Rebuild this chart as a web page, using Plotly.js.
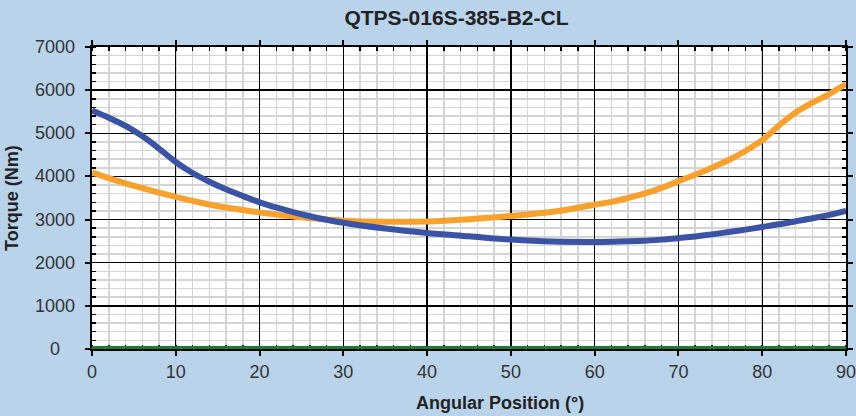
<!DOCTYPE html>
<html>
<head>
<meta charset="utf-8">
<script src="https://cdn.plot.ly/plotly-3.0.1.min.js"></script>
<style>html,body{margin:0;padding:0;background:#b9d4ea;}#chart{width:856px;height:416px;}</style>
</head>
<body>
<div id="chart"></div>
<script>
const angle = [0,2,4,6,8,10,12,14,16,18,20,22,24,26,28,30,35,40,45,50,55,60,62,64,66,68,70,72,74,76,78,80,82,84,86,88,90];
const torqueBlue = [5527,5360,5170,4935,4645,4335,4080,3878,3702,3545,3400,3280,3172,3078,2995,2925,2791,2690,2613,2536,2489,2481,2486,2496,2512,2535,2570,2610,2657,2710,2767,2829,2891,2961,3031,3109,3202];
const torqueOrange = [4093,3960,3840,3730,3625,3525,3432,3350,3280,3220,3165,3115,3070,3035,3002,2975,2948,2958,3010,3085,3180,3345,3411,3500,3605,3736,3891,4039,4202,4380,4590,4840,5180,5480,5710,5910,6140];
const baseX = [0,90];
const baseY = [0,0];
const yTicks = [0,1000,2000,3000,4000,5000,6000,7000];
const chartTitle = 'QTPS-016S-385-B2-CL';
const xTitle = 'Angular Position (°)';
const yTitle = 'Torque (Nm)';

const font = 'Liberation Sans, Arial, sans-serif';
const W = 856, H = 416, L = 92, R = 10, T = 47, B = 67;
const PW = W - L - R;
const traces = [
  {x: baseX, y: baseY, mode: 'lines', line: {color: '#1e7a34', width: 6}, cliponaxis: false, hoverinfo: 'skip'},
  {x: angle, y: torqueOrange, mode: 'lines', line: {color: '#f9a12d', width: 6, shape: 'spline', smoothing: 1}},
  {x: angle, y: torqueBlue, mode: 'lines', line: {color: '#3a53a4', width: 6, shape: 'spline', smoothing: 1}}
];
const axisCommon = {
  showline: true, linecolor: '#000', linewidth: 2, mirror: 'ticks',
  ticks: 'outside', ticklen: 5, tickcolor: '#000', tickwidth: 2,
  showgrid: true, gridcolor: '#000', gridwidth: 1.4,
  zeroline: false, layer: 'below traces',
};
const annotations = yTicks.map(v => ({
  xref: 'paper', yref: 'y', x: (55 - L) / PW, y: v, xanchor: 'center', yanchor: 'middle',
  text: String(v), showarrow: false, font: {family: font, size: 18, color: '#333'}
}));
annotations.push({
  xref: 'paper', yref: 'paper', x: (500 - L) / PW, y: -(403 - (H - B)) / (H - T - B),
  xanchor: 'center', yanchor: 'middle', text: '<b>' + xTitle + '</b>', showarrow: false,
  font: {family: font, size: 18, color: '#222'}
});
annotations.push({
  xref: 'paper', yref: 'paper', x: (12 - L) / PW, y: 0.5, textangle: -90,
  xanchor: 'center', yanchor: 'middle', text: '<b>' + yTitle + '</b>', showarrow: false,
  font: {family: font, size: 18, color: '#222'}
});
const layout = {
  width: W, height: H,
  paper_bgcolor: '#b9d4ea', plot_bgcolor: '#ffffff',
  margin: {l: L, r: R, t: T, b: B},
  showlegend: false,
  title: {text: '<b>' + chartTitle + '</b>', font: {family: font, size: 21, color: '#222'},
          xref: 'paper', x: (456.5 - L) / PW, xanchor: 'center', yref: 'container', y: 1 - 18 / H, yanchor: 'middle'},
  xaxis: Object.assign({}, axisCommon, {
    range: [0, 90], dtick: 10, tick0: 0, ticklabeloverflow: 'allow',
    tickfont: {family: font, size: 18, color: '#333'},
    minor: {dtick: 2, showgrid: true, gridcolor: '#d4d4d4', gridwidth: 1.5, ticks: 'inside', ticklen: 4, tickcolor: '#000', tickwidth: 1.5}
  }),
  yaxis: Object.assign({}, axisCommon, {
    range: [0, 7000], dtick: 1000, tick0: 0, showticklabels: false,
    minor: {dtick: 200, showgrid: true, gridcolor: '#d4d4d4', gridwidth: 1.5, ticks: 'inside', ticklen: 4, tickcolor: '#000', tickwidth: 1.5}
  }),
  annotations: annotations
};
Plotly.newPlot('chart', traces, layout, {displayModeBar: false, staticPlot: true});
</script>
</body>
</html>
